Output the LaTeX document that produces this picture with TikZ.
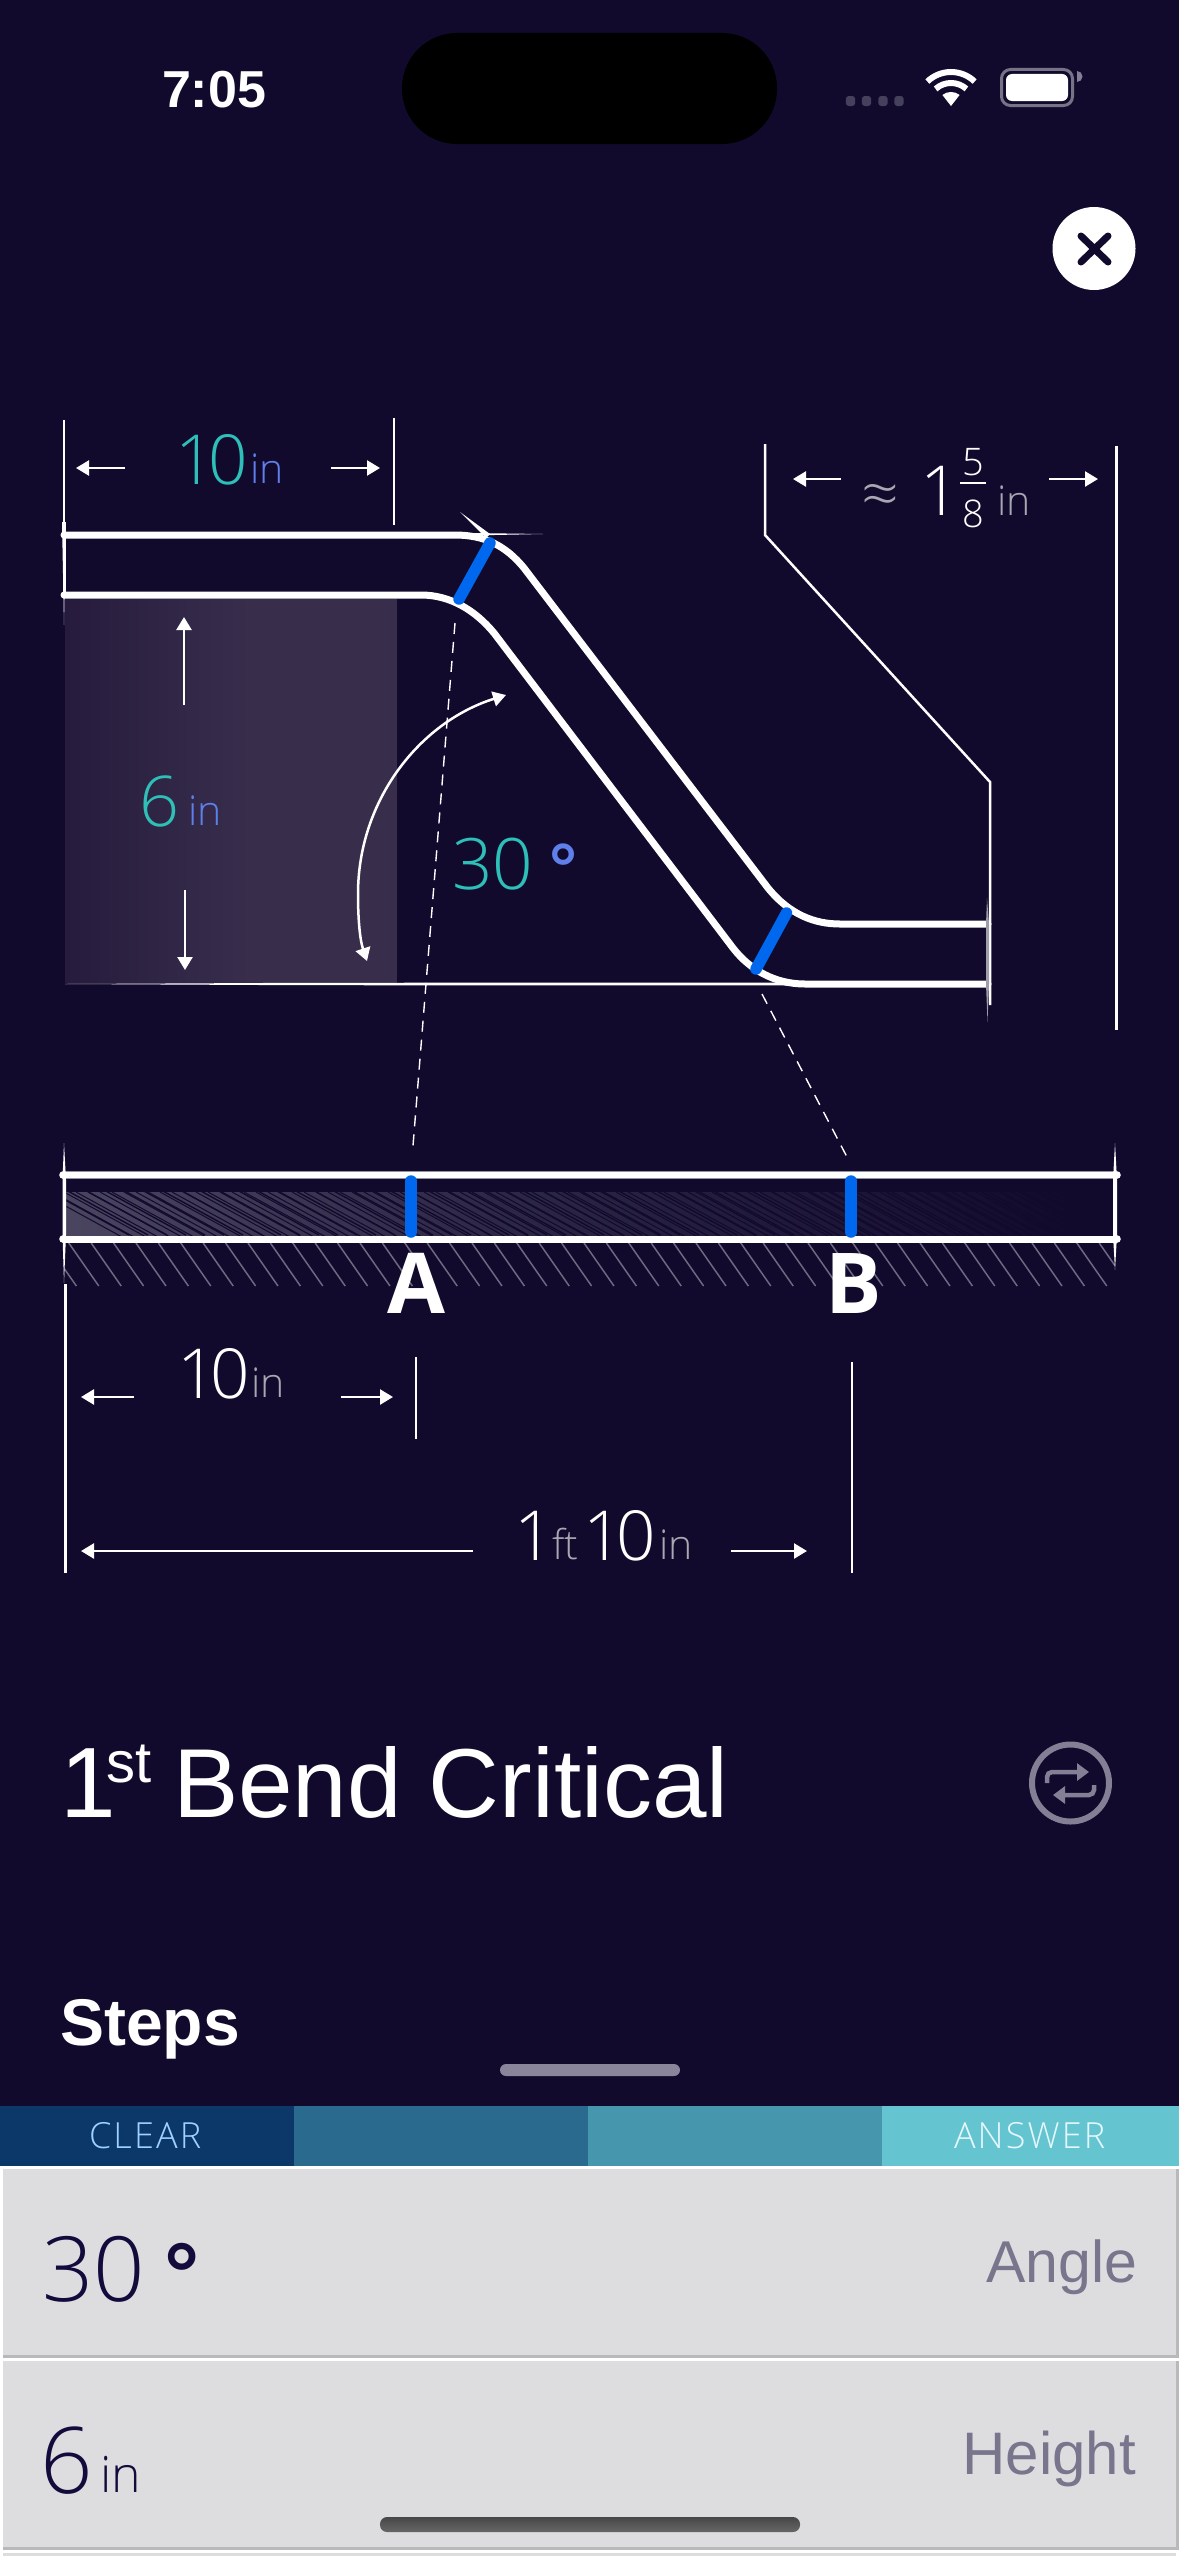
\documentclass[tikz,border=0pt]{standalone}
\usepackage{fontspec}
\usetikzlibrary{arrows.meta}
\setmainfont{Liberation Sans}
\newfontfamily\thinf{Open Sans Light}
\newfontfamily\semif{Open Sans}
\newcommand{\fsz}[1]{\fontsize{#1}{#1}\selectfont}
\definecolor{bgc}{HTML}{110A2D}
\definecolor{tealc}{HTML}{2EBFB8}
\definecolor{bluec}{HTML}{5F80EA}
\definecolor{markc}{HTML}{0068EE}
\definecolor{greyt}{HTML}{A9A7B2}
\definecolor{cardc}{HTML}{DDDDE0}
\definecolor{cardb}{HTML}{B9B9BC}
\definecolor{darkt}{HTML}{120B3C}
\definecolor{labt}{HTML}{78758C}
\definecolor{iconc}{HTML}{857F96}
\definecolor{stripa}{HTML}{0B3868}
\definecolor{stripb}{HTML}{2A6A8E}
\definecolor{stripc}{HTML}{4696AE}
\definecolor{stripd}{HTML}{64C4CF}
\definecolor{blocka}{HTML}{261B3C}
\definecolor{blockb}{HTML}{382E4C}
\tikzset{
  lbl/.style={inner sep=0pt,outer sep=0pt,anchor=base west},
  lblr/.style={inner sep=0pt,outer sep=0pt,anchor=base east},
  pipe/.style={draw=white,line width=7pt,line cap=round,line join=round},
  dim/.style={draw=white,line width=2.5pt},
  dimarrow/.style={draw=white,line width=2.5pt,-{Triangle[length=13pt,width=15pt]}},
  bendmark/.style={draw=markc,line width=11.5pt,line cap=round},
  dashline/.style={draw=white,line width=1.4pt,dash pattern=on 11pt off 8pt},
  hatchline/.style={draw=#1,line width=1.5pt},
}
\begin{document}
\begin{tikzpicture}[x=1pt,y=-1pt]
\useasboundingbox (0,0) rectangle (1179,2556);
\fill[bgc] (0,0) rectangle (1179,2556);
% status bar
\node[lbl,text=white,font=\bfseries\fsz{52}] (time) at (162,107) {7:05};
\fill[black,rounded corners=55pt] (402,33) rectangle (777,144);
\foreach \x in {850.5,866.5,883,899} \fill[draw=none,fill=white!22!bgc,rounded corners=3pt] (\x-4.7,96) rectangle (\x+4.7,106);
\begin{scope}[shift={(951,106)},y=1pt]
 \fill[white] (0,0) -- (52:14) arc[start angle=52,end angle=128,radius=14] -- cycle;
 \draw[white,line width=6pt] (48:23) arc[start angle=48,end angle=132,radius=23];
 \draw[white,line width=6pt] (46:34) arc[start angle=46,end angle=134,radius=34];
\end{scope}
\draw[iconc!90!black,line width=3pt,rounded corners=9pt] (1001.5,69.5) rectangle (1072.5,105.5);
\fill[white,rounded corners=6pt] (1006,74) rectangle (1068,101);
\fill[iconc] (1077,82) arc[start angle=90,end angle=-90,radius=5.5] -- cycle;
% close button
\fill[white] (1094,248.5) circle[radius=41.5];
\draw[bgc,line width=7pt,line cap=round] (1081,236) -- (1108,262) (1108,236) -- (1081,262);
% shaded block
\fill[left color=blocka,right color=blockb] (65,599) rectangle (250,983);
\fill[blockb] (250,599) rectangle (397,983);
% first dimension
\draw[dim] (64,420) -- (64,522);
\fill[white] (62,522) -- (66,522) -- (64,625) -- cycle;
\draw[dim] (394,418) -- (394,525);
\draw[dimarrow] (125,468) -- (76,468);
\draw[dimarrow] (331,468) -- (380,468);
\node[lbl,text=tealc,font=\thinf\fsz{69}] (ten) at (175,484) {1\kern-6pt 0};
\node[lbl,text=bluec,font=\thinf\fsz{41}] (tenin) at (250,483) {in};
% pipe
\draw[pipe] (64,535) -- (455,535) .. controls (485,535) and (506,546) .. (524,568) -- (768,888) .. controls (790,915) and (815,924) .. (840,924) -- (988,924);
\draw[pipe] (64,595) -- (421,595) .. controls (450,595) and (475,610) .. (494,633) -- (733,948) .. controls (750,970) and (775,984) .. (805,984) -- (988,984);
\draw[white,line width=3pt] (64,533) -- (64,597);
\fill[white] (300,982.8) -- (805,982.5) -- (805,985.5) -- (300,985.2) -- (65,984) -- cycle;
% sparkle
\fill[white] (460,512) -- (490,534) -- (486,538) -- cycle;
\fill[white] (470,533) -- (543,534) -- (470,535.5) -- cycle;
% 6in
\draw[dimarrow] (184,705) -- (184,617);
\draw[dimarrow] (185,890) -- (185,970);
\node[lbl,text=tealc,font=\thinf\fsz{70}] (six) at (139,826) {6};
\node[lbl,text=bluec,font=\thinf\fsz{41}] (sixin) at (188,825) {in};
% angle
\draw[white,line width=2.5pt,{Triangle[length=13pt,width=15pt]}-{Triangle[length=13pt,width=15pt]}] (506,695) .. controls (420,722) and (358,800) .. (358,894) .. controls (358,920) and (360,940) .. (367,961);
\node[lbl,text=tealc,font=\thinf\fsz{71}] (thirty) at (452,889) {30};
\node[lbl,text=bluec,font=\bfseries\fsz{70}] (deg) at (549,892) {°};
% dashes
\draw[dashline] (455,623) -- (412.5,1152);
\draw[dashline] (762,994) -- (847,1157);
% bend marks
\draw[bendmark] (490,543) -- (459,599);
\draw[bendmark] (786.5,913) -- (756,969);
% right dimension
\draw[dim] (765,444) -- (765,535) -- (990,782) -- (990,1005);
\draw[white,line width=3pt] (1116.5,446) -- (1116.5,1030);
\fill[white!60!bgc] (987,898) -- (989,924) -- (989,984) -- (987.5,1022) -- (986,984) -- (986,924) -- cycle;
\draw[dimarrow] (841,479) -- (793,479);
\draw[dimarrow] (1049,479) -- (1098,479);
\node[lbl,text=greyt,font=\thinf\fsz{66}] (approx) at (861,517) {≈};
\node[lbl,text=white,font=\thinf\fsz{69}] (one) at (920,515) {1};
\node[lbl,text=white,font=\thinf\fsz{38},anchor=base] (num) at (973,475) {5};
\draw[white,line width=2pt] (960,483) -- (986,483);
\node[lbl,text=white,font=\thinf\fsz{38},anchor=base] (den) at (973,527) {8};
\node[lbl,text=greyt,font=\thinf\fsz{41}] (fracin) at (997,515) {in};
% strip
\fill[left color=white!24!bgc,right color=white!12!bgc] (65,1192) rectangle (500,1237);
\fill[left color=white!12!bgc,right color=bgc] (500,1192) rectangle (1073,1237);
\begin{scope}
 \clip (65,1192) rectangle (1075,1237);
 \foreach \x in {40,52,...,1090} \draw[bgc,line width=1pt] (\x,1192) -- ++(82,45);
 \foreach \x in {47,66,...,1090} \draw[bgc,line width=1.4pt] (\x,1190) -- ++(82,45);
\end{scope}
\begin{scope}
 \clip (65,1243) rectangle (1115,1286);
 \foreach \x in {24,46.4,...,1150} \draw[hatchline=iconc!80!bgc] (\x,1243) -- ++(30,43);
\end{scope}
\draw[white!55!bgc,line width=7.5pt] (63,1175) -- (1117,1175);
\draw[white,line width=5.5pt] (63,1175) -- (1117,1175);
\draw[white,line width=7pt] (63,1239) -- (1117,1239);
\foreach \x in {63,1117} \foreach \y in {1175,1239} \fill[white] (\x,\y) circle[radius=3.8];
\fill[white] (64,1143) -- (66,1180) -- (66,1235) -- (64,1283) -- (62.5,1235) -- (62.5,1180) -- cycle;
\fill[white] (1115,1143) -- (1117,1180) -- (1117,1235) -- (1115,1270) -- (1113,1235) -- (1113,1180) -- cycle;
\draw[bendmark] (411,1181) -- (411,1232);
\draw[bendmark] (851,1181) -- (851,1232);
\node[lbl,text=white,font=\semif\bfseries\fsz{84}] (A) at (387,1313) {A};
\node[lbl,text=white,font=\semif\bfseries\fsz{84}] (B) at (825,1313) {B};
% lower dimensions
\draw[white,line width=3pt] (65.5,1284) -- (65.5,1573);
\draw[dim] (416,1357) -- (416,1439);
\draw[dim] (852,1362) -- (852,1573);
\draw[dimarrow] (134,1397) -- (81,1397);
\draw[dimarrow] (341,1397) -- (393,1397);
\draw[dimarrow] (473,1551) -- (81,1551);
\draw[dimarrow] (731,1551) -- (807,1551);
\node[lbl,text=white,font=\thinf\fsz{69}] (dten) at (177,1398) {1\kern-6pt 0};
\node[lbl,text=greyt,font=\thinf\fsz{41}] (dtenin) at (251,1397) {in};
\node[lbl,text=white,font=\thinf\fsz{69}] (ftnum) at (514,1560) {1};
\node[lbl,text=greyt,font=\thinf\fsz{41}] (ft) at (552,1559) {ft};
\node[lbl,text=white,font=\thinf\fsz{69}] (inum) at (583,1560) {1\kern-6pt 0};
\node[lbl,text=greyt,font=\thinf\fsz{41}] (inin) at (659,1559) {in};
% title
\node[lbl,text=white,font=\fsz{100}] (tone) at (60,1817) {1};
\node[lbl,text=white,font=\fsz{58}] (tst) at (106,1782) {st};
\node[lbl,text=white,font=\fsz{98}] (ttl) at (173,1817) {Bend Critical};
% switch icon
\draw[iconc,line width=6pt] (1070.5,1783) circle[radius=38.5];
\draw[iconc,line width=4.5pt,rounded corners=5pt,-{Triangle[length=12pt,width=17pt]}] (1047,1783) -- (1047,1772) -- (1089,1772);
\draw[iconc,line width=4.5pt,rounded corners=5pt,-{Triangle[length=12pt,width=17pt]}] (1094,1785) -- (1094,1795) -- (1053,1795);
% steps
\node[lbl,text=white,font=\bfseries\fsz{66}] (steps) at (60,2045) {Steps};
\fill[iconc!95!white,rounded corners=6pt] (500,2064) rectangle (680,2076);
% colour strip
\fill[stripa] (0,2106) rectangle (294,2166);
\fill[stripb] (294,2106) rectangle (588,2166);
\fill[stripc] (588,2106) rectangle (882,2166);
\fill[stripd] (882,2106) rectangle (1179,2166);
\node[lbl,text=white!78!blue!80!cyan,font=\thinf\addfontfeature{LetterSpace=6}\fsz{36}] (clear) at (89,2148) {CLEAR};
\node[lbl,text=white!90!cyan,font=\thinf\addfontfeature{LetterSpace=6}\fsz{36}] (answer) at (954,2148) {ANSWER};
% cards
\fill[white] (0,2166) rectangle (1179,2556);
\fill[cardb] (3,2169) rectangle (1179,2358);
\fill[cardc] (3,2169) rectangle (1176,2355);
\fill[cardb] (3,2361) rectangle (1179,2550);
\fill[cardc] (3,2361) rectangle (1176,2547);
\fill[cardc] (3,2553) rectangle (1176,2556);
\node[lbl,text=darkt,font=\thinf\fsz{90}] (vthirty) at (42,2301) {30};
\node[lbl,text=darkt,font=\bfseries\fsz{88}] (vdeg) at (164,2304) {°};
\node[lblr,text=labt,font=\fsz{59}] (angle) at (1137,2282) {Angle};
\node[lbl,text=darkt,font=\thinf\fsz{92}] (vsix) at (40,2493) {6};
\node[lbl,text=darkt,font=\thinf\fsz{50}] (vin) at (100,2492) {in};
\node[lblr,text=labt,font=\fsz{60}] (height) at (1136,2474) {Height};
\shade[top color=black!72,bottom color=black!60,rounded corners=7pt] (380,2517) rectangle (800,2532);
\end{tikzpicture}
\end{document}
